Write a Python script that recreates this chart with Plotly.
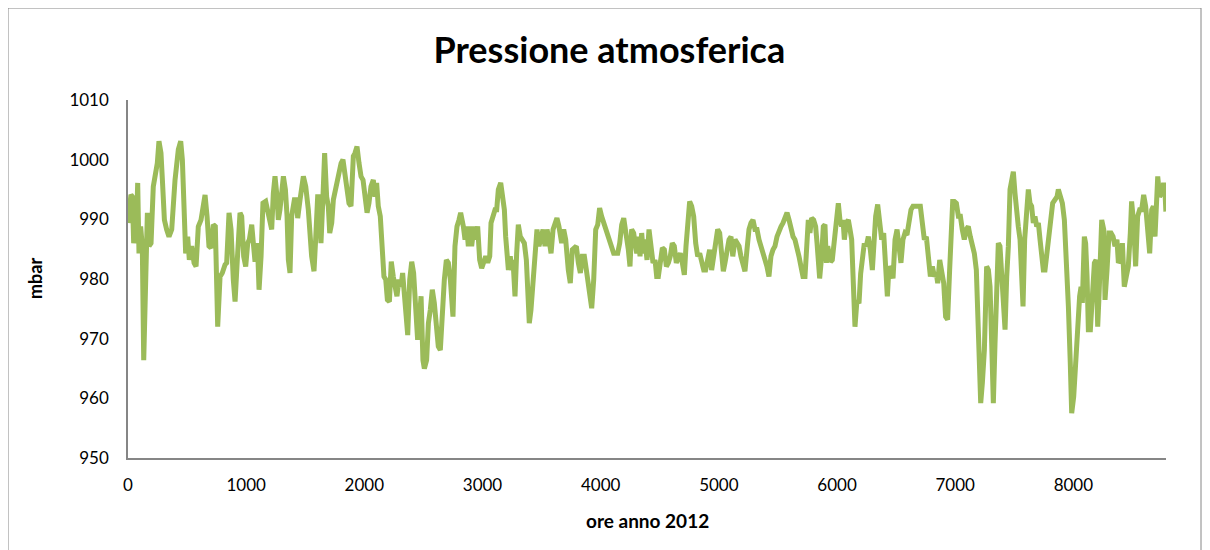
import plotly.graph_objects as go

# Hourly atmospheric pressure, 2012 (hours of the year -> mbar)
ore = [
    0, 25, 37, 48, 59, 68, 82, 93, 107, 121, 133, 150, 164, 178, 195, 214, 234, 248, 262, 279,
    291, 308, 327, 347, 370, 398, 426, 446, 460, 477, 488, 505, 519, 539, 559, 576, 595, 618, 638, 652,
    669, 685, 702, 722, 739, 759, 779, 798, 821, 835, 855, 872, 891, 906, 925, 948, 962, 979, 996, 1013,
    1027, 1047, 1063, 1075, 1095, 1109, 1126, 1142, 1165, 1182, 1202, 1216, 1230, 1244, 1261, 1272, 1286, 1300, 1315, 1332,
    1346, 1357, 1371, 1385, 1408, 1427,
    1436, 1456, 1484, 1504, 1526, 1554, 1574, 1588, 1605, 1616, 1633, 1650, 1664, 1681, 1695, 1707, 1724, 1738, 1757, 1780,
    1803, 1819, 1836, 1853, 1870, 1887, 1907, 1921, 1938, 1955, 1972, 1989, 2006, 2023, 2039, 2056, 2076, 2090, 2104, 2118,
    2135, 2152, 2166, 2181, 2195, 2212, 2228, 2245, 2259, 2276, 2293, 2310, 2324, 2338, 2353, 2367, 2384, 2401, 2417, 2434,
    2451, 2463, 2480, 2496, 2508, 2527, 2542, 2558, 2575, 2592, 2609, 2626, 2643, 2660, 2677, 2694, 2711, 2728, 2750, 2767,
    2784, 2801, 2815, 2838,
    2852, 2866, 2880, 2894, 2908, 2928, 2942, 2959, 2976, 2993, 3010, 3027, 3044, 3061, 3072, 3087, 3106, 3120, 3134, 3154,
    3168, 3185, 3196, 3207, 3219, 3235, 3247, 3258, 3275, 3289, 3303, 3320, 3337, 3354, 3371, 3382, 3396, 3410, 3427, 3444,
    3461, 3478, 3495, 3512, 3529, 3546, 3563, 3580, 3597, 3613, 3630, 3647, 3670, 3687, 3704, 3726, 3743, 3760, 3777, 3794,
    3811, 3828, 3845, 3862, 3879, 3901, 3924, 3941, 3958, 3975, 3991, 4008, 4025, 4042, 4059, 4076, 4093, 4110, 4127, 4144,
    4161, 4178, 4195, 4211, 4234, 4248, 4262, 4279,
    4305, 4319, 4333, 4347, 4361, 4375, 4392, 4409, 4426, 4443, 4460, 4474, 4488, 4505, 4522, 4539, 4556, 4573, 4589, 4606,
    4623, 4640, 4657, 4674, 4691, 4708, 4722, 4736, 4753, 4770, 4787, 4804, 4821, 4838, 4855, 4872, 4888, 4905, 4922, 4939,
    4956, 4973, 4990, 5007, 5024, 5038, 5052, 5069, 5086, 5103, 5118, 5137, 5154, 5171, 5187, 5204, 5221, 5238, 5255, 5272,
    5289, 5306, 5323, 5340, 5357, 5374, 5391, 5407, 5424, 5441, 5458, 5475, 5492, 5509, 5526, 5543, 5560, 5577, 5594, 5611,
    5628, 5644, 5661, 5678, 5695, 5712,
    5729, 5743, 5757, 5771, 5785, 5802, 5819, 5831, 5842, 5853, 5870, 5884, 5898, 5910, 5921, 5932, 5946, 5960, 5977, 5994,
    6011, 6025, 6039, 6051, 6062, 6079, 6096, 6110, 6124, 6138, 6152, 6169, 6186, 6200, 6214, 6231, 6248, 6265, 6282, 6299,
    6313, 6327, 6344, 6361, 6378, 6395, 6412, 6426, 6440, 6457, 6474, 6491, 6508, 6525, 6541, 6558, 6575, 6592, 6609, 6626,
    6643, 6671, 6705, 6722, 6739, 6756, 6773, 6790, 6807, 6824, 6840, 6852, 6869, 6886, 6903, 6919, 6936, 6953, 6965, 6979,
    6993, 7010, 7027, 7044, 7060, 7077, 7094, 7111, 7128, 7145, 7162, 7179, 7190, 7201, 7216, 7230, 7247, 7261,
    7266, 7281, 7295, 7309, 7323, 7337, 7351, 7365, 7379, 7393, 7407, 7422, 7436, 7450, 7464, 7478, 7492, 7506, 7520, 7534,
    7549, 7563, 7574, 7588, 7602, 7619, 7633, 7647, 7661, 7675, 7690, 7704, 7718, 7732, 7746, 7760, 7774, 7788, 7808, 7825,
    7845, 7862, 7873, 7890, 7907, 7924, 7941, 7958, 7974, 7986, 8003, 8020, 8037, 8053, 8065, 8076, 8093, 8104, 8116, 8127,
    8144, 8161, 8178, 8192, 8206, 8217, 8228, 8240, 8257, 8268, 8285, 8302, 8319, 8336, 8352, 8369, 8381, 8398, 8415, 8431,
    8448, 8465, 8482, 8493, 8510, 8527, 8544, 8561, 8578, 8595, 8612, 8629, 8646, 8663, 8677, 8691, 8705, 8714, 8730, 8747,
    8764, 8776, 8783,
]

mbar = [
    989.4, 994.1, 993.8, 986, 988.3, 986, 996.1, 984.3, 988.8, 985.5, 966.4, 982.7, 991.1, 985.5, 986, 995.5, 997.8, 999.4, 1003.1, 1001.1,
    996.6, 989.9, 988.3, 987.1, 988.3, 996.6, 1001.7, 1003.1, 1000, 992.7, 984.3, 987.1, 983.2, 985.5, 982.7, 982.1, 988.8, 989.9, 992.7, 994.1,
    990.5, 985.5, 985.2, 989.1, 988.8, 972, 980.4, 981, 982.4, 982.7, 991.1, 988.3, 979.9, 976.2, 983.2, 991.1, 990.5, 983.8, 982.1, 986,
    986.6, 989.1, 985.5, 982.9, 986, 978.2, 983.8, 992.7, 993, 991.1, 988.8, 988.3, 994.4, 997.2, 993.8, 989.9, 991.6, 994.4, 997.2, 995,
    990.5, 983.2, 981, 990.5, 993.3, 993.3,
    990.2, 993.3, 997.2, 995.5, 991.6, 983.8, 981.3, 986.6, 993.8, 993.8, 986, 993.8, 1001.1, 993.8, 992.2, 987.7, 989.4, 993.3, 995, 997.8,
    999.4, 1000, 997.8, 996.1, 992.7, 992.2, 1000.6, 1001.1, 1002.2, 999.4, 997.2, 996.6, 993.8, 991.1, 992.7, 995.5, 996.6, 993.8, 996.1, 992.2,
    990.5, 986, 980.4, 979.9, 976.5, 976.2, 982.9, 980.4, 979.3, 977.1, 979.9, 978.7, 981, 978.2, 973.7, 970.6, 979.9, 982.9, 981, 973.7,
    969.8, 972.6, 977.1, 966.4, 965, 966.4, 972.6, 974.8, 978.2, 976, 972, 968.7, 968.1, 974.8, 979.9, 983.2, 982.7, 979.9, 973.7, 985.5,
    988.8, 989.9, 991.1, 988.8,
    986.6, 988.8, 985.5, 988.8, 985.5, 988.8, 986.6, 988.8, 983.2, 981.8, 982.7, 983.8, 982.7, 983.8, 989.4, 990.5, 991.6, 991.6, 995, 996.1,
    994.4, 991.6, 987.1, 982.7, 981.5, 983.8, 981.5, 983.2, 977.1, 984.3, 989.1, 987.1, 986.6, 986, 983.2, 975.4, 972.6, 974.8, 979.3, 986,
    988.3, 985.5, 987.1, 988.3, 985.5, 988.3, 986.6, 984.3, 988.3, 989.4, 990.2, 988.8, 986, 988.3, 986.6, 981.5, 979.3, 984.9, 985.2, 985.5,
    982.7, 981, 983.8, 983.8, 981.5, 977.6, 975.1, 979.9, 988.3, 989.1, 991.9, 990.5, 989.4, 988.8, 987.7, 986.6, 985.7, 984.3, 984.3, 984.3,
    986, 989.1, 990.2, 988.3, 984.9, 982.1, 988.3, 987.7,
    984.3, 987.1, 983.8, 987.7, 984.3, 986.6, 983.2, 988.3, 986, 982.7, 983.2, 980.4, 980.4, 983.8, 985.2, 984.9, 982.1, 982.7, 983.8, 986,
    985.5, 982.7, 983.8, 984.3, 982.7, 980.7, 985.5, 990.5, 993, 992.2, 990.5, 986, 983.8, 984.3, 983.2, 981.5, 981.5, 983.8, 984.9, 981.5,
    983.8, 987.1, 988.3, 987.7, 983.8, 981.3, 982.7, 985.5, 986.6, 987.1, 983.8, 986.6, 986, 985.5, 983.8, 982.7, 981.3, 984.9, 988.3, 989.4,
    989.9, 988.3, 988.3, 986.6, 985.5, 984.3, 982.7, 982.1, 980.4, 983.8, 984.9, 985.5, 987.1, 988.3, 988.8, 989.4, 990.5, 991.1, 989.9, 988.3,
    987.1, 986.6, 985.5, 983.8, 982.1, 980.4,
    980.4, 987.1, 989.9, 987.7, 990.2, 989.9, 988.8, 986, 981.5, 980.1, 983.8, 988.8, 989.1, 982.7, 985.5, 983.8, 982.9, 983.2, 986.6, 989.9,
    992.7, 989.9, 988.8, 989.9, 986.6, 989.4, 989.9, 988.3, 986.6, 979.3, 972, 976.5, 975.9, 980.9, 983.8, 986, 985.5, 987.1, 984.9, 981.5,
    986, 990.5, 992.5, 988.3, 986.6, 987.7, 982.7, 977.1, 982.1, 981.5, 980.1, 986.6, 988.3, 985.5, 982.7, 986.6, 987.7, 987.4, 989.4, 991.6,
    992.2, 992.2, 992.2, 989.4, 986.6, 987.1, 982.7, 980.4, 982.1, 980.4, 981, 979.3, 983.2, 981, 979.3, 973.7, 973.2, 981.5, 989.9, 993,
    993, 992.7, 990.5, 990.5, 988.3, 986.6, 988.3, 988.8, 987.1, 985.5, 984.3, 981.5, 976, 968.7, 959.2, 962.6, 968.1, 978.2,
    982.1, 981.5, 978.7, 969.2, 959.2, 969.2, 977.6, 986, 985.5, 980.4, 977.1, 971.5, 980.4, 985.5, 995, 997.2, 998, 994.4, 990.5, 988.8,
    986.6, 979.9, 975.4, 986.6, 991.6, 995, 992.7, 992.2, 989.4, 990.5, 988.8, 989.4, 986.6, 983.8, 981.5, 981.5, 983.8, 986.6, 989.4, 992.7,
    993.3, 993.8, 995, 993.8, 992.7, 989.9, 983.8, 975.4, 965.9, 957.5, 960.3, 965.9, 973.7, 977.1, 978.7, 976, 987.1, 986, 980.4, 971.5,
    971.5, 976, 982.7, 983.2, 972, 977.1, 983.8, 989.9, 988.3, 976.5, 981.5, 987.7, 987.7, 987.1, 985.5, 986.6, 982.7, 983.2, 986, 978.7,
    980.4, 982.1, 987.7, 993, 989.4, 982.1, 990.5, 991.6, 991.6, 994.1, 992.2, 988.8, 984.3, 991.6, 992.2, 987.1, 993.8, 997.2, 993.8, 994.4,
    996.1, 994.4, 991.3,
]

x_ticks = [0, 1000, 2000, 3000, 4000, 5000, 6000, 7000, 8000]
y_ticks = [950, 960, 970, 980, 990, 1000, 1010]

FONT = "Lato, Calibri, Carlito, sans-serif"

fig = go.Figure()
fig.add_trace(go.Scatter(
    x=ore, y=mbar, mode="lines",
    line=dict(color="#9BBB59", width=5),
    showlegend=False,
))

fig.update_layout(
    width=1210, height=550,
    margin=dict(l=120, r=52, t=92, b=100),
    paper_bgcolor="white", plot_bgcolor="white",
    font=dict(family=FONT, color="#000000", size=16),
    title=dict(text="<b>Pressione atmosferica</b>", x=0.497, xanchor="center",
               y=1 - 42 / 550, yanchor="middle", xref="container", yref="container",
               font=dict(family=FONT, size=36, color="#000000")),
    xaxis=dict(range=[0, 8784], tickvals=x_ticks, ticktext=[str(v) for v in x_ticks],
               showline=True, linecolor="#868686", linewidth=1.5, showgrid=False,
               zeroline=False, ticks="", ticklabelstandoff=11,
               tickfont=dict(family=FONT, size=17, color="#000000")),
    yaxis=dict(range=[950, 1010], tickvals=y_ticks, ticktext=[str(v) for v in y_ticks],
               showline=True, linecolor="#868686", linewidth=1.5, showgrid=False,
               zeroline=False, ticks="", ticklabelstandoff=14,
               tickfont=dict(family=FONT, size=17, color="#000000")),
    annotations=[
        dict(text="<b>ore anno 2012</b>", x=0.5, y=(458 - 520) / 358, xref="paper", yref="paper",
             showarrow=False, xanchor="center", yanchor="middle",
             font=dict(family=FONT, size=19, color="#000000")),
        dict(text="<b>mbar</b>", x=(35 - 128) / 1038, y=0.5, xref="paper", yref="paper",
             showarrow=False, xanchor="center", yanchor="middle", textangle=-90,
             font=dict(family=FONT, size=18, color="#000000")),
    ],
    shapes=[
        dict(type="rect", xref="paper", yref="paper",
             x0=(8 - 128) / 1038, x1=(1201 - 128) / 1038,
             y0=(458 - 570) / 358, y1=(458 - 8) / 358,
             line=dict(color="#868686", width=1), fillcolor="rgba(0,0,0,0)", layer="below"),
    ],
)

fig.write_html("out.html")
